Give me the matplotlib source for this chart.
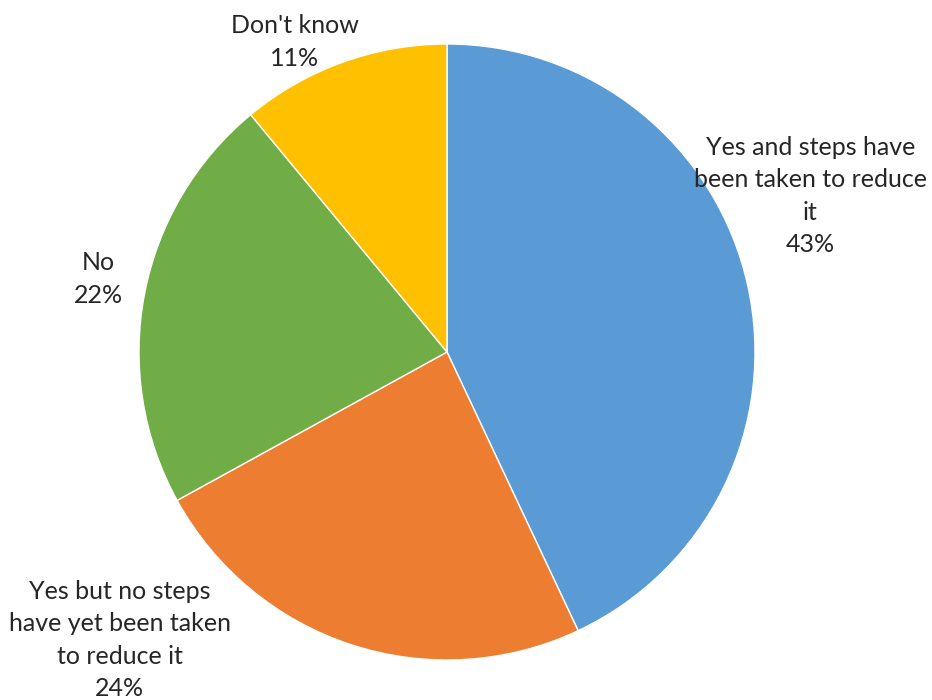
import matplotlib.pyplot as plt

labels = ['Yes and steps have\nbeen taken to reduce\nit',
          'Yes but no steps\nhave yet been taken\nto reduce it',
          'No',
          "Don't know"]
values = [43, 24, 22, 11]
colors = ['#5B9BD5', '#ED7D31', '#70AD47', '#FFC000']
# label block centres, in pie-radius units
label_pos = [(1.18, 0.506), (-1.062, -0.935), (-1.133, 0.237), (-0.494, 1.006)]

plt.rcParams['font.family'] = ['Lato', 'DejaVu Sans']

fig = plt.figure(figsize=(9.32, 7.0), dpi=100)
ax = fig.add_axes([0, 0, 1, 1])
ax.pie(values, colors=colors, startangle=90, counterclock=False,
       radius=1.0, wedgeprops=dict(edgecolor='white', linewidth=1))

for lab, v, (x, y) in zip(labels, values, label_pos):
    ax.text(x, y, '%s\n%d%%' % (lab, v), ha='center', va='center',
            fontsize=18, color='#262626', linespacing=1.5)

cx, cy, r = 447.0, 352.0, 308.0
ax.set_xlim(-cx / r, (932 - cx) / r)
ax.set_ylim(-(700 - cy) / r, cy / r)
ax.set_aspect('auto')
ax.axis('off')

fig.savefig('out.png', dpi=100)
